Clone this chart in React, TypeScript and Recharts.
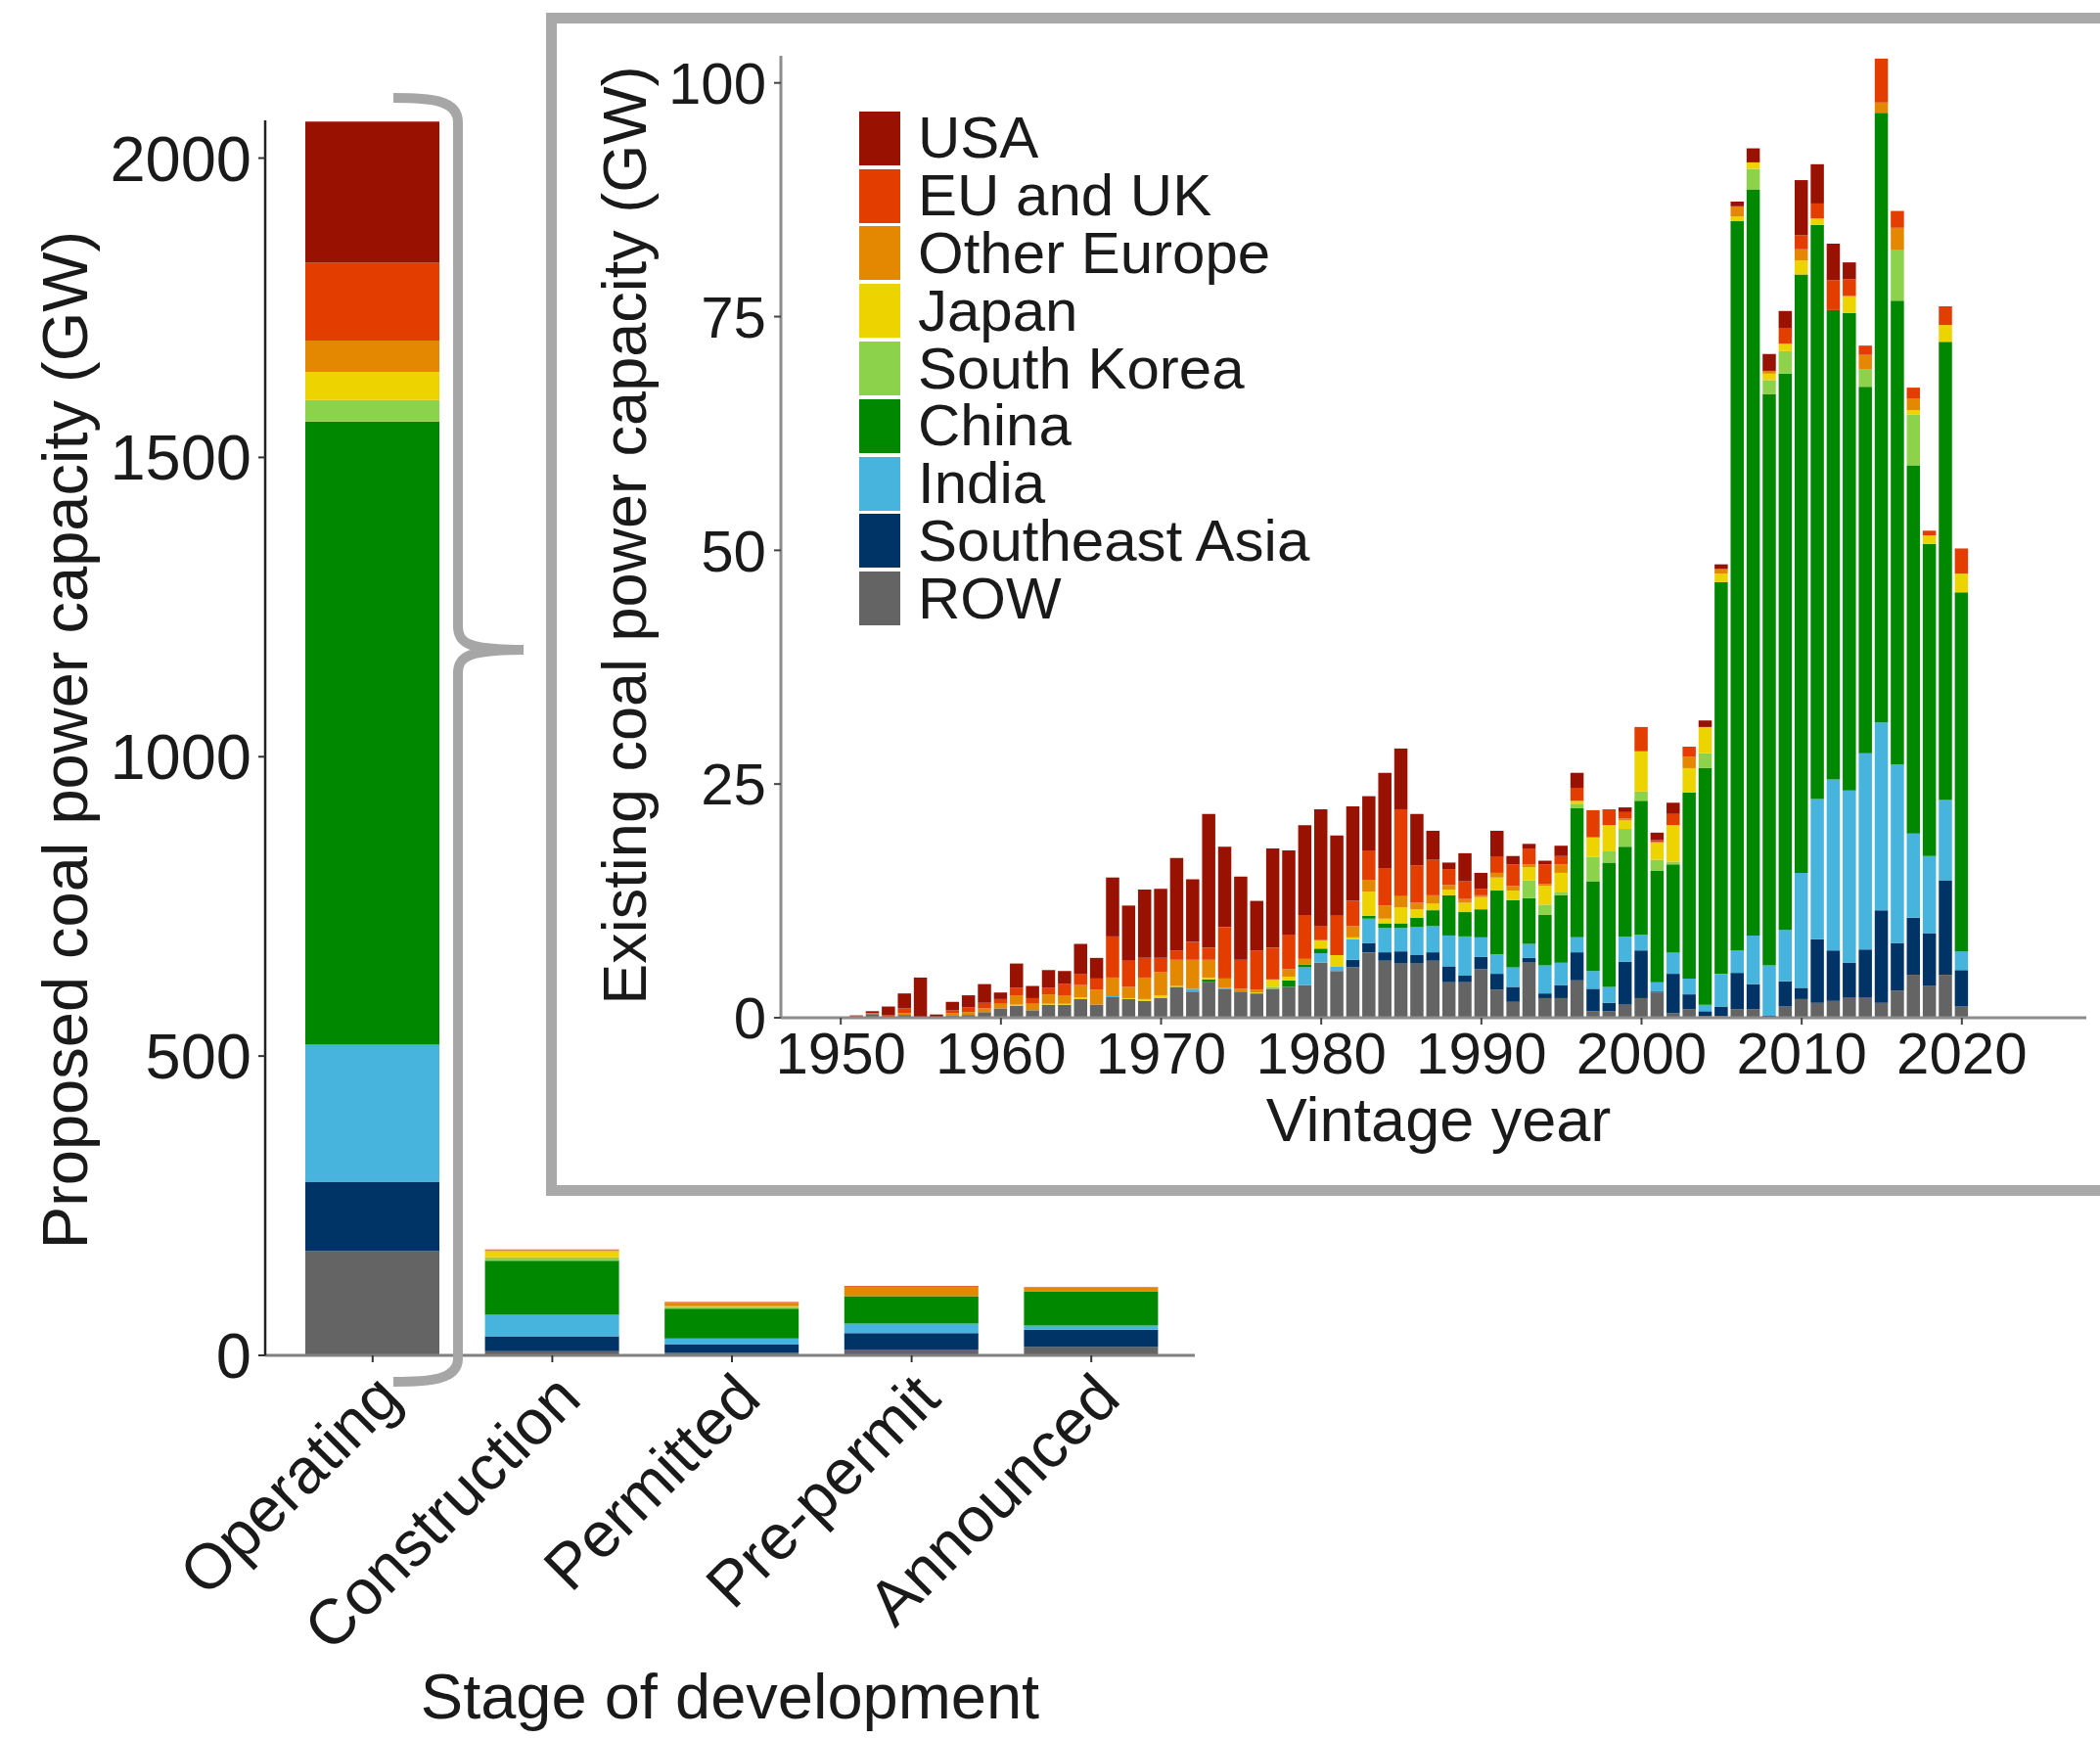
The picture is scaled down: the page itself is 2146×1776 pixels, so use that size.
import React from "react";
import { Bar, BarChart, XAxis, YAxis } from "recharts";

const font = "'Liberation Sans', Arial, sans-serif";
const ink = "#1a1a1a";

// series, top of legend first
const regions = ["USA", "EU and UK", "Other Europe", "Japan", "South Korea", "China", "India", "Southeast Asia", "ROW"];
const regionKeys = ["usa", "eu", "otherEurope", "japan", "southKorea", "china", "india", "seAsia", "row"];
const regionColors = ["#991100", "#e33d00", "#e38800", "#edd400", "#8cd24a", "#008800", "#47b4de", "#003366", "#646464"];

// proposed capacity by stage (GW)
const stages = ["Operating", "Construction", "Permitted", "Pre-permit", "Announced"];
const stageUsa = [236, 0, 0, 0, 0];
const stageEu = [130, 1, 1, 1, 1];
const stageOtherEurope = [52, 2, 6, 16, 6];
const stageJapan = [47, 10, 2, 0, 0];
const stageSouthKorea = [36, 6, 2, 0, 0];
const stageChina = [1041, 90, 50, 46, 57];
const stageIndia = [229, 36, 10, 16, 7];
const stageSeAsia = [116, 25, 14, 27, 29];
const stageRow = [174, 7, 4, 10, 14];
const stageTicks = [0, 500, 1000, 1500, 2000];

// existing capacity by vintage year (GW)
const vintageYears = [
  1950, 1951, 1952, 1953, 1954, 1955, 1956, 1957, 1958, 1959,
  1960, 1961, 1962, 1963, 1964, 1965, 1966, 1967, 1968, 1969,
  1970, 1971, 1972, 1973, 1974, 1975, 1976, 1977, 1978, 1979,
  1980, 1981, 1982, 1983, 1984, 1985, 1986, 1987, 1988, 1989,
  1990, 1991, 1992, 1993, 1994, 1995, 1996, 1997, 1998, 1999,
  2000, 2001, 2002, 2003, 2004, 2005, 2006, 2007, 2008, 2009,
  2010, 2011, 2012, 2013, 2014, 2015, 2016, 2017, 2018, 2019,
  2020,
];
const vintageUsa = [
  0, 0.1, 0.2, 0.9, 1.6, 4.2, 0.35, 0.9, 1.3, 2.0,
  0.7, 2.6, 1.3, 1.9, 1.4, 3.2, 2.2, 6.3, 5.9, 7.3,
  7.4, 9.9, 6.7, 14.3, 8.6, 8.9, 5.3, 10.6, 9.0, 9.6,
  12.5, 8.6, 10.1, 5.8, 10.2, 6.5, 5.5, 3.1, 0.7, 3.0,
  1.7, 2.8, 0.9, 0.5, 0.4, 1.1, 1.6, 0, 0, 0.5,
  0, 0.8, 1.2, 0, 0.7, 0.5, 0.5, 1.5, 1.8, 1.8,
  5.9, 4.2, 3.9, 1.8, 0, 0, 0, 0, 0, 0,
  0,
];
const vintageEu = [
  0, 0.1, 0, 0.2, 0.5, 0, 0, 0.3, 0.5, 0.6,
  0.5, 0.8, 0.6, 0.7, 1.2, 1.2, 1.2, 4.4, 2.8, 2.1,
  1.5, 1.0, 1.9, 1.3, 5.5, 3.1, 4.2, 3.4, 3.7, 4.7,
  1.5, 4.2, 2.7, 3.2, 4.0, 9.3, 4.0, 3.8, 1.7, 1.9,
  0.7, 1.7, 2.3, 1.7, 2.1, 0.9, 1.4, 2.9, 1.7, 0.7,
  2.6, 0.2, 1.2, 1.1, 0, 0, 0, 0, 0, 1.7,
  1.5, 1.6, 3.2, 1.8, 1.0, 4.7, 1.8, 1.2, 0.5, 2.0,
  2.7,
];
const vintageOtherEurope = [
  0, 0, 0.1, 0, 0.2, 0, 0, 0.3, 0.3, 0.4,
  0.5, 1.0, 0.7, 1.0, 0.9, 1.3, 1.6, 2.0, 1.2, 2.3,
  2.5, 2.8, 3.1, 1.9, 1.0, 0.3, 0.3, 0, 0.8, 0.6,
  0, 0, 1.2, 1.2, 1.4, 1.2, 0.7, 0.9, 0.5, 0.4,
  0.2, 0.5, 0.5, 0.3, 0.2, 0.9, 0, 0, 0, 0.2,
  0, 0.1, 0, 1.2, 0, 0.5, 1.1, 0, 0.3, 0,
  1.2, 0, 0, 0, 1.5, 1.1, 2.4, 1.2, 0, 0,
  0,
];
const vintageJapan = [
  0, 0, 0, 0, 0, 0, 0, 0, 0, 0,
  0, 0.1, 0, 0.1, 0.1, 0.2, 0, 0, 0.1, 0.2,
  0.3, 0.1, 0, 0.2, 0, 0, 0.1, 0.8, 0.4, 0,
  0.9, 1.2, 0.2, 2.6, 0.5, 1.7, 0.9, 0.7, 0.6, 1.0,
  1.3, 1.4, 1.0, 1.4, 2.0, 2.1, 0.3, 2.1, 2.8, 0.9,
  4.3, 1.8, 3.9, 2.6, 2.8, 0.9, 0.5, 0.7, 0.7, 0.8,
  1.5, 0.7, 0, 1.8, 0, 0, 0, 0.5, 0.9, 1.8,
  2.0,
];
const vintageSouthKorea = [
  0, 0, 0, 0, 0, 0, 0, 0, 0, 0,
  0, 0, 0, 0, 0, 0, 0, 0, 0, 0,
  0, 0, 0, 0, 0, 0, 0, 0.2, 0, 0,
  0, 0, 0, 0, 0, 0, 0, 0, 0, 0,
  0, 0, 0, 1.9, 1.1, 0.3, 0.5, 2.6, 1.2, 1.9,
  1.0, 1.2, 0.3, 0, 1.6, 0, 0, 2.2, 1.5, 2.4,
  0, 0, 0, 0, 1.9, 0, 5.4, 5.4, 0, 0,
  0,
];
const vintageChina = [
  0, 0, 0, 0, 0, 0, 0, 0, 0, 0,
  0, 0, 0, 0, 0, 0, 0, 0, 0, 0,
  0, 0, 0, 0.3, 0, 0, 0, 0, 0.7, 0.3,
  0.5, 0, 0, 0.3, 0.5, 0.5, 1.0, 1.7, 4.3, 2.6,
  3.0, 6.8, 7.2, 4.9, 5.4, 7.2, 13.8, 9.6, 13.3, 9.6,
  14.3, 11.9, 9.4, 19.9, 25.3, 41.9, 78.0, 79.8, 61.1, 59.5,
  64.0, 61.4, 50.2, 51.1, 39.2, 65.2, 49.6, 39.4, 33.4, 49.0,
  38.4,
];
const vintageIndia = [
  0, 0, 0, 0, 0, 0, 0, 0, 0, 0,
  0, 0, 0, 0, 0, 0, 0, 0.1, 0, 0,
  0, 0, 0.3, 0, 0.1, 0, 0, 0, 0, 1.9,
  1.0, 0.5, 2.2, 2.6, 2.6, 2.5, 3.0, 2.8, 3.3, 4.2,
  2.1, 2.1, 2.1, 1.5, 3.0, 2.4, 1.6, 1.9, 1.7, 2.7,
  1.7, 1.0, 2.3, 1.7, 0.7, 3.5, 2.4, 5.2, 5.4, 5.5,
  12.3, 15.0, 18.3, 18.4, 21.0, 20.1, 19.1, 9.0, 8.3, 8.6,
  2.0,
];
const vintageSeAsia = [
  0, 0, 0, 0, 0, 0, 0, 0, 0, 0,
  0, 0, 0, 0, 0, 0, 0, 0, 0, 0,
  0, 0, 0, 0, 0, 0, 0, 0, 0, 0,
  0, 0, 0.8, 1.0, 0.9, 1.3, 0.9, 0.9, 1.7, 0.7,
  1.3, 1.7, 1.6, 0.5, 0.5, 1.4, 3.0, 2.4, 0.9, 4.6,
  5.1, 0.1, 4.2, 1.6, 0.5, 1.0, 3.9, 2.7, 0.1, 2.7,
  1.2, 6.8, 5.4, 3.7, 5.1, 9.9, 5.1, 6.1, 5.6, 10.1,
  3.9,
];
const vintageRow = [
  0.1, 0.05, 0.4, 0.1, 0.3, 0.1, 0, 0.2, 0.3, 0.6,
  1.0, 1.3, 0.8, 1.4, 1.4, 2.0, 1.4, 2.2, 2.0, 1.8,
  2.1, 3.3, 2.8, 3.8, 3.1, 2.8, 2.6, 3.1, 3.3, 3.5,
  5.9, 5.0, 5.4, 7.0, 6.1, 5.8, 5.8, 6.1, 3.8, 3.8,
  5.2, 3.0, 1.7, 5.9, 2.1, 2.1, 4.0, 0.7, 0.7, 1.4,
  2.1, 2.7, 0.5, 0.9, 0.2, 0.2, 0.9, 0.9, 0.1, 1.2,
  2.0, 1.6, 1.8, 2.2, 2.2, 1.6, 2.9, 4.6, 3.4, 4.6,
  1.2,
];
const vintageTicks = [0, 25, 50, 75, 100];

const stageSeries = [stageUsa, stageEu, stageOtherEurope, stageJapan, stageSouthKorea, stageChina, stageIndia, stageSeAsia, stageRow];
const vintageSeries = [vintageUsa, vintageEu, vintageOtherEurope, vintageJapan, vintageSouthKorea, vintageChina, vintageIndia, vintageSeAsia, vintageRow];

const stageData = stages.map((stage, i) => {
  const row: Record<string, string | number> = { stage };
  regionKeys.forEach((k, j) => (row[k] = stageSeries[j][i]));
  return row;
});

const vintageData = vintageYears.map((year, i) => {
  const row: Record<string, number> = { year };
  regionKeys.forEach((k, j) => (row[k] = vintageSeries[j][i]));
  return row;
});

// stacking draws first bar at the bottom, so ROW goes first
const stackOrder = regionKeys.map((_, i) => i).reverse();

const AxisTitle = ({ px, py, rot, text, size }: any) => (
  <text
    x={px}
    y={py}
    textAnchor="middle"
    transform={rot ? `rotate(${rot} ${px} ${py})` : undefined}
    fontSize={size}
    fill={ink}
    fontFamily={font}
  >
    {text}
  </text>
);

const StageTick = (props: any) => {
  const { x, y, payload } = props;
  const ax = x + 32;
  const ay = y + 38;
  return (
    <text x={ax} y={ay} textAnchor="end" transform={`rotate(-45 ${ax} ${ay})`} fontSize={65} fill={ink} fontFamily={font}>
      {payload.value}
    </text>
  );
};

function StageChart() {
  return (
    <BarChart
      width={1240}
      height={1776}
      data={stageData}
      margin={{ top: 123, right: 19, bottom: 0, left: 0 }}
      barSize={137}
      style={{ position: "absolute", left: 0, top: 0 }}
    >
      <XAxis
        dataKey="stage"
        height={391}
        padding={{ left: 18, right: 14 }}
        tickSize={7}
        tick={<StageTick />}
        axisLine={{ stroke: "#808080", strokeWidth: 3 }}
        tickLine={{ stroke: "#333", strokeWidth: 2 }}
        label={<AxisTitle px={746} py={1756} text="Stage of development" size={65} />}
      />
      <YAxis
        width={271}
        domain={[0, 2063]}
        ticks={stageTicks}
        tickSize={7}
        tickMargin={7}
        tick={{ fontSize: 65, fill: ink, fontFamily: font }}
        axisLine={{ stroke: "#222", strokeWidth: 2.5 }}
        tickLine={{ stroke: "#333", strokeWidth: 2 }}
        label={<AxisTitle px={89} py={756} rot={-90} text="Proposed coal power capacity (GW)" size={65} />}
      />
      {stackOrder.map((i) => (
        <Bar key={regionKeys[i]} dataKey={regionKeys[i]} name={regions[i]} stackId="s" fill={regionColors[i]} isAnimationActive={false} />
      ))}
    </BarChart>
  );
}

function VintageChart() {
  return (
    <BarChart
      width={1576}
      height={1190}
      data={vintageData}
      margin={{ top: 33, right: 14, bottom: 0, left: 0 }}
      barSize={13.5}
      style={{ position: "absolute", left: 570, top: 24 }}
    >
      <XAxis
        dataKey="year"
        height={174}
        interval={9}
        padding={{ left: 53, right: 119 }}
        tickSize={7}
        tickMargin={7}
        tick={{ fontSize: 60, fill: ink, fontFamily: font }}
        axisLine={{ stroke: "#8c8c8c", strokeWidth: 3 }}
        tickLine={{ stroke: "#444", strokeWidth: 2 }}
        label={<AxisTitle px={900} py={1142} text="Vintage year" size={63} />}
      />
      <YAxis
        width={228}
        domain={[0, 102.9]}
        ticks={vintageTicks}
        tickSize={7}
        tickMargin={8}
        tick={{ fontSize: 60, fill: ink, fontFamily: font }}
        axisLine={{ stroke: "#8c8c8c", strokeWidth: 3 }}
        tickLine={{ stroke: "#444", strokeWidth: 2 }}
        label={<AxisTitle px={90} py={523} rot={-90} text="Existing coal power capacity (GW)" size={63} />}
      />
      {stackOrder.map((i) => (
        <Bar key={regionKeys[i]} dataKey={regionKeys[i]} name={regions[i]} stackId="v" fill={regionColors[i]} isAnimationActive={false} />
      ))}
    </BarChart>
  );
}

function RegionLegend() {
  return (
    <div style={{ position: "absolute", left: 878, top: 112, fontFamily: font, color: ink }}>
      {regions.map((name, i) => (
        <div key={name} style={{ display: "flex", alignItems: "center", height: 58.8 }}>
          <div style={{ width: 42, height: 55, background: regionColors[i], marginRight: 18 }} />
          <span style={{ display: "inline-block", fontSize: 60, lineHeight: "54px", height: 54, whiteSpace: "nowrap" }}>{name}</span>
        </div>
      ))}
    </div>
  );
}

function Brace() {
  return (
    <svg width={600} height={1500} style={{ position: "absolute", left: 0, top: 0, pointerEvents: "none" }}>
      <path
        d="M 402 100 C 440 100 468 102 468 125 L 468 640 C 468 658 480 664 535 664 M 535 664 C 480 664 468 670 468 688 L 468 1388 C 468 1410 440 1412 402 1412"
        fill="none"
        stroke="#a6a6a6"
        strokeWidth={10}
        strokeLinecap="butt"
        strokeLinejoin="round"
      />
    </svg>
  );
}

export default function App() {
  return (
    <div style={{ position: "absolute", left: 0, top: 0, width: 2146, height: 1776, overflow: "hidden", background: "#fff" }}>
      <StageChart />
      <div
        style={{
          position: "absolute",
          left: 558,
          top: 13,
          width: 1700,
          height: 1209,
          border: "11px solid #a9a9a9",
          boxSizing: "border-box",
        }}
      />
      <VintageChart />
      <RegionLegend />
      <Brace />
    </div>
  );
}
